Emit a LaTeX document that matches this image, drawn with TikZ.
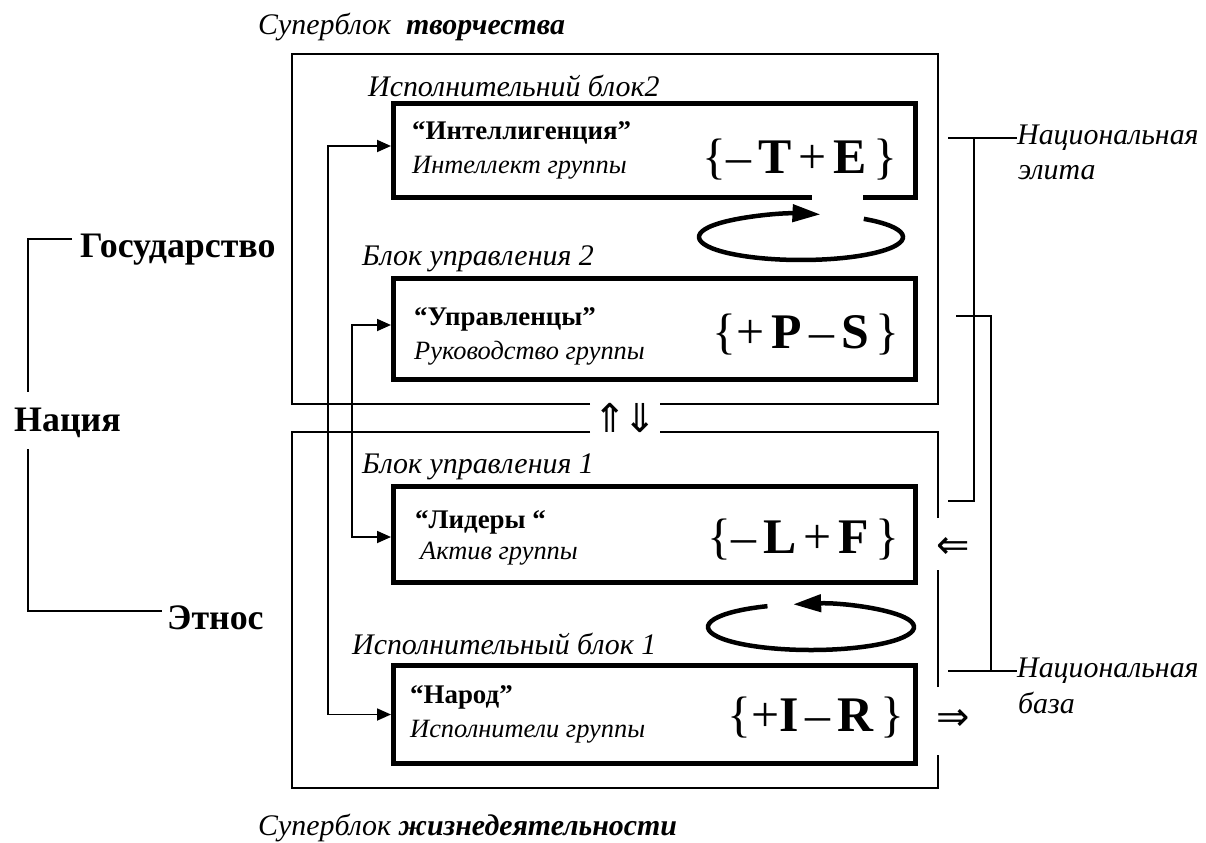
\documentclass[tikz,border=0pt]{standalone}
\usepackage{fontspec}
\setmainfont{Liberation Serif}
\newfontfamily\arrowfont{DejaVu Sans}
\usetikzlibrary{arrows.meta}

\newcommand\fgap{\kern7bp}

\tikzset{
  blockbox/.style={draw, line width=5bp, minimum width=522bp, inner sep=0pt},
  blocklbl/.style={anchor=west, inner sep=0pt, font=\itshape\fontsize{30}{33}\selectfont},
  grptitle/.style={anchor=west, inner sep=0pt, font=\bfseries\fontsize{27}{30}\selectfont},
  grpsub/.style={anchor=west, inner sep=0pt, font=\itshape\fontsize{26.5}{30}\selectfont},
  formula/.style={anchor=east, inner sep=0pt, font=\fontsize{50}{54}\selectfont},
  nationlbl/.style={anchor=west, inner sep=0pt, font=\bfseries\fontsize{36}{40}\selectfont},
  sidenote/.style={anchor=west, inner sep=0pt, font=\itshape\fontsize{30}{33}\selectfont},
  superframe/.style={line width=1.8bp},
  thinline/.style={line width=1.5bp},
  link/.style={line width=1.8bp, {Triangle[length=14bp,width=12bp]}-{Triangle[length=14bp,width=12bp]}},
  cyclearr/.style={line width=4.5bp, -{Triangle[length=28bp,width=17bp]}},
  dblarrow/.style={inner sep=0pt, font=\arrowfont\fontsize{40}{44}\selectfont}
}

\begin{document}
\begin{tikzpicture}[x=1bp,y=-1bp]
    \useasboundingbox (0,0) rectangle (1206,843);

    % superblocks
    \draw[superframe] (590,404) -- (292,404) -- (292,54) -- (938,54) -- (938,404) -- (660,404);
    \draw[superframe] (590,432) -- (292,432) -- (292,788) -- (938,788) -- (938,755);
    \draw[superframe] (938,687) -- (938,570);
    \draw[superframe] (938,518) -- (938,432) -- (660,432);

    \node[sidenote] (sbtop) at (258,27) {Суперблок\ \ \textbf{творчества}};
    \node[sidenote] (sbbot) at (258,828) {Суперблок \textbf{жизнедеятельности}};

    % blocks
    \node[blockbox, minimum height=94bp] (intel) at (654.5,150.5) {};
    \node[blockbox, minimum height=101bp] (upr) at (654.5,329) {};
    \node[blockbox, minimum height=96bp] (lider) at (654.5,534.5) {};
    \node[blockbox, minimum height=98bp] (narod) at (654.5,714.5) {};
    \fill[white] (812,195) rectangle (863,206);

    \node[blocklbl] (lblintel) at (368,86) {Исполнительний блок2};
    \node[blocklbl] (lblupr) at (362,259) {Блок управления 2};
    \node[blocklbl] (lbllider) at (362,467) {Блок управления 1};
    \node[blocklbl] (lblnarod) at (352,644) {Исполнительный блок 1};

    \node[grptitle] (tintel) at (412,133) {“Интеллигенция”};
    \node[grpsub] (sintel) at (412,168) {Интеллект группы};
    \node[formula] (fintel) at (898,160) {\{–\fgap\textbf{T}\fgap+\fgap\textbf{E}\fgap\}};

    \node[grptitle] (tupr) at (414,319) {“Управленцы”};
    \node[grpsub] (supr) at (414,353) {Руководство группы};
    \node[formula] (fupr) at (900,335) {\{+\fgap\textbf{P}\fgap–\fgap\textbf{S}\fgap\}};

    \node[grptitle] (tlider) at (415,522) {“Лидеры “};
    \node[grpsub] (slider) at (420,554) {Актив группы};
    \node[formula] (flider) at (900,540) {\{–\fgap\textbf{L}\fgap+\fgap\textbf{F}\fgap\}};

    \node[grptitle] (tnarod) at (410,697) {“Народ”};
    \node[grpsub] (snarod) at (410,732) {Исполнители группы};
    \node[formula] (fnarod) at (905,718) {\{+\textbf{I}\fgap–\fgap\textbf{R}\fgap\}};

    % cycles
    \draw[cyclearr] (801,237) ++(-52:102 and 23) arc[start angle=-52, end angle=281, x radius=102, y radius=23];
    \draw[cyclearr] (811,627) ++(-115:103 and 23) arc[start angle=-115, end angle=-460, x radius=103, y radius=23];

    % links between blocks
    \draw[link] ([yshift=4.5bp]intel.west) -- ++(-63,0) |- (narod.west);
    \draw[link] ([yshift=4bp]upr.west) -- ++(-39,0) |- ([yshift=-2.5bp]lider.west);

    \node[dblarrow] (updown) at (625,418) {⇑\kern-4bp⇓};
    \node[dblarrow] (inarr) at (953,548) {⇐};
    \node[dblarrow] (outarr) at (953,720) {⇒};

    % right brackets
    \node[sidenote] (elite1) at (1017,138) {Национальная};
    \node[sidenote] (elite2) at (1018,173) {элита};
    \node[sidenote] (base1) at (1017,671) {Национальная};
    \node[sidenote] (base2) at (1018,703) {база};
    \draw[thinline] (elite1.west) -- (948,138);
    \draw[thinline] (974,138) -- (974,501) -- (948,501);
    \draw[thinline] (956,316) -- (991,316) -- (991,671);
    \draw[thinline] (base1.west) -- (948,671);

    % left bracket
    \node[nationlbl] (gos) at (80,250) {Государство};
    \node[nationlbl] (natsiya) at (14,423) {Нация};
    \node[nationlbl] (etnos) at (167,618) {Этнос};
    \draw[thinline] ([shift={(-8,-11)}]gos.west) -| (28,392);
    \draw[thinline] (28,449) |- ([shift={(-5,-7)}]etnos.west);
\end{tikzpicture}
\end{document}
